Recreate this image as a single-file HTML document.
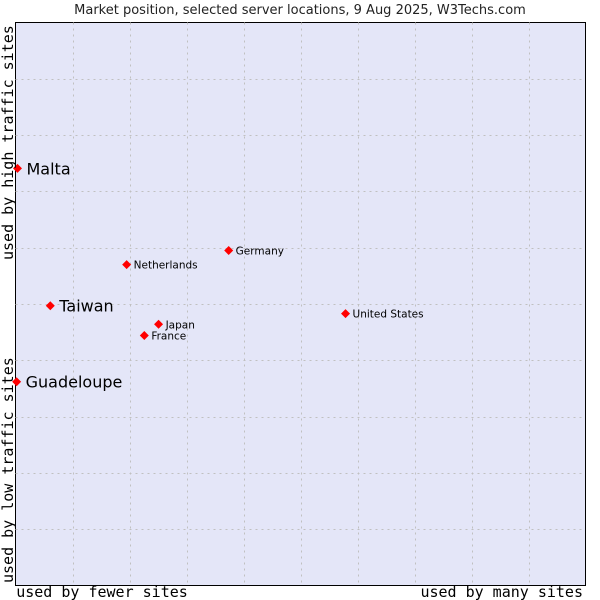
<!DOCTYPE html>
<html><head><meta charset="utf-8"><style>
body{margin:0;background:#fff;}
svg{display:block;}
</style></head><body>
<svg id="chart" width="600" height="600" xmlns="http://www.w3.org/2000/svg">
<text x="300" y="14" text-anchor="middle" font-family="DejaVu Sans, sans-serif" font-size="13" fill="#222">Market position, selected server locations, 9 Aug 2025, W3Techs.com</text>
<rect x="15.5" y="22.5" width="570" height="563" fill="#e4e6f8" stroke="#000" stroke-width="1"/>
<g id="grid"></g>
<g id="marks"></g>
<text x="102" y="597" text-anchor="middle" font-family="DejaVu Sans Mono, monospace" font-size="15" fill="#000">used by fewer sites</text>
<text x="583" y="597" text-anchor="end" font-family="DejaVu Sans Mono, monospace" font-size="15" fill="#000">used by many sites</text>
<text transform="translate(13,583) rotate(-90)" font-family="DejaVu Sans Mono, monospace" font-size="15" fill="#000">used by low traffic sites</text>
<text transform="translate(13,260) rotate(-90)" font-family="DejaVu Sans Mono, monospace" font-size="15" fill="#000">used by high traffic sites</text>
</svg>
<script>
const names = ["Malta","Taiwan","Guadeloupe","Netherlands","Germany","Japan","France","United States"];
const xValues = [0.35,6.1,0.2,19.5,37.4,25.1,22.6,57.9];
const yValues = [74.1,49.7,36.2,57.0,59.5,46.4,44.4,48.3];
const bigLabel = [true,true,true,false,false,false,false,false];
const NS="http://www.w3.org/2000/svg";
const L=15.5,R=585.5,T=22.5,B=585.5;
function sx(v){return L+(R-L)*v/100;}
function sy(v){return B-(B-T)*v/100;}
const grid=document.getElementById('grid');
for(let i=1;i<10;i++){
  const gx=Math.round(sx(i*10))+0.5, gy=Math.round(sy(i*10))+0.5;
  const v=document.createElementNS(NS,'line');
  v.setAttribute('x1',gx);v.setAttribute('x2',gx);v.setAttribute('y1',T);v.setAttribute('y2',B);
  v.setAttribute('stroke','#c0c0c0');v.setAttribute('stroke-dasharray','2,4');
  
  
  grid.appendChild(v);
  const h=document.createElementNS(NS,'line');
  h.setAttribute('x1',L);h.setAttribute('x2',R);h.setAttribute('y1',gy);h.setAttribute('y2',gy);
  h.setAttribute('stroke','#c0c0c0');h.setAttribute('stroke-dasharray','2,4');
  
  
  grid.appendChild(h);
}
const marks=document.getElementById('marks');
names.forEach((n,i)=>{
  const x=sx(xValues[i]), y=sy(yValues[i]);
  const p=document.createElementNS(NS,'polygon');
  p.setAttribute('points',`${x},${y-4.5} ${x+4.5},${y} ${x},${y+4.5} ${x-4.5},${y}`);
  p.setAttribute('fill','#ff0000');
  
  
  marks.appendChild(p);
  const t=document.createElementNS(NS,'text');
  const big=bigLabel[i];
  t.setAttribute('x',x+(big?9:7));
  t.setAttribute('y',y+(big?6:4));
  t.setAttribute('font-family','DejaVu Sans, sans-serif');
  t.setAttribute('font-size',big?16:10.5);
  t.setAttribute('fill','#000');
  t.textContent=n;
  
  
  marks.appendChild(t);
});
</script>
</body></html>
